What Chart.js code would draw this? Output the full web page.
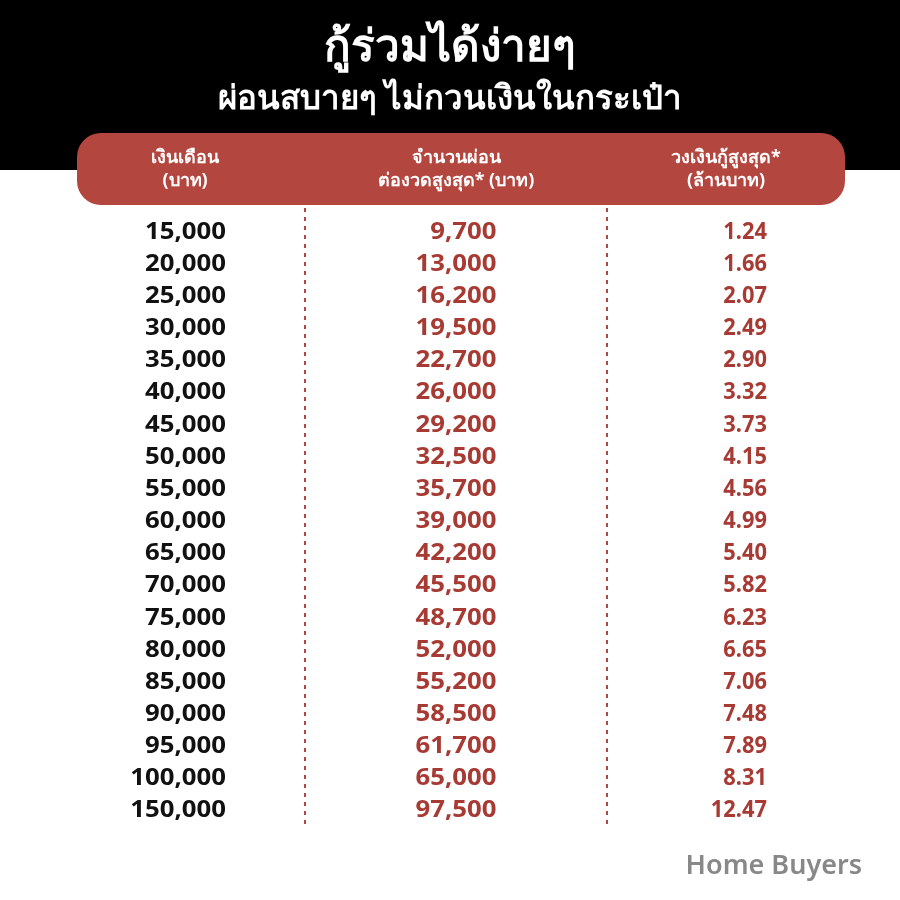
<!DOCTYPE html>
<html><head><meta charset="utf-8">
<script src="https://cdn.jsdelivr.net/npm/chart.js@4/dist/chart.umd.min.js"></script>
<style>html,body{margin:0;padding:0;background:#fff}#w{width:900px;height:900px}</style>
</head><body><div id="w"><canvas id="c"></canvas></div>
<script>
const salaries=["15,000","20,000","25,000","30,000","35,000","40,000","45,000","50,000","55,000","60,000","65,000","70,000","75,000","80,000","85,000","90,000","95,000","100,000","150,000"];
const payments=["9,700","13,000","16,200","19,500","22,700","26,000","29,200","32,500","35,700","39,000","42,200","45,500","48,700","52,000","55,200","58,500","61,700","65,000","97,500"];
const loans=["1.24","1.66","2.07","2.49","2.90","3.32","3.73","4.15","4.56","4.99","5.40","5.82","6.23","6.65","7.06","7.48","7.89","8.31","12.47"];
const headers=[["เงินเดือน","(บาท)"],["จำนวนผ่อน","ต่องวดสูงสุด* (บาท)"],["วงเงินกู้สูงสุด*","(ล้านบาท)"]];
const title="กู้ร่วมได้ง่ายๆ";
const subtitle="ผ่อนสบายๆ ไม่กวนเงินในกระเป๋า";
const RED="#b3463f";
const F="'Noto Sans','DejaVu Sans',sans-serif";
const cols=[salaries,payments,loans];
const datasets=cols.map((arr,ci)=>({data:arr.map((v,i)=>({x:ci,y:salaries[i],t:v})),pointRadius:0,color:ci==0?"#111":"#a83a34"}));
const plugin={id:'tbl',
beforeDraw(ch){const c=ch.ctx;c.save();
c.fillStyle="#000";c.fillRect(0,0,900,170);
c.fillStyle="#fff";c.textAlign="center";c.textBaseline="middle";
c.font="bold 44px "+F;c.fillText(title,450,48);
c.font="bold 33px "+F;c.fillText(subtitle,450,100);
c.fillStyle=RED;c.beginPath();c.roundRect(77,133,768,72,24);c.fill();
const hx=[185,456,726];
c.fillStyle="#fff";c.font="bold 18px "+F;
headers.forEach((h,i)=>{c.fillText(h[0],hx[i],158);c.fillText(h[1],hx[i],181);});
c.strokeStyle=RED;c.lineWidth=2;c.setLineDash([4,5]);
[305,607].forEach(x=>{c.beginPath();c.moveTo(x,208);c.lineTo(x,826);c.stroke();});
c.setLineDash([]);
c.fillStyle="#888";c.textAlign="right";c.font="600 27px "+F;c.fillText("Home Buyers",862,866);
c.restore();},
afterDatasetsDraw(ch){const c=ch.ctx;c.save();c.textAlign="right";c.textBaseline="middle";
ch.data.datasets.forEach((ds,di)=>{c.fillStyle=ds.color;c.font="bold 23px "+F;
ds.data.forEach(p=>{const x=ch.scales.x.getPixelForValue(p.x),y=ch.scales.y.getPixelForValue(p.y);
c.save();c.translate(x,y);c.scale(di==2?0.95:1.12,1);c.fillText(p.t,0,0);c.restore();});});
c.restore();}};
new Chart(document.getElementById('c'),{type:'scatter',data:{datasets},
options:{responsive:true,maintainAspectRatio:false,animation:false,
layout:{padding:{left:226,right:133,top:216,bottom:73}},
plugins:{legend:{display:false},tooltip:{enabled:false}},
scales:{x:{type:'linear',min:0,max:2,display:false},
y:{type:'category',labels:salaries,offset:true,display:false}}},
plugins:[plugin]});
</script></body></html>
